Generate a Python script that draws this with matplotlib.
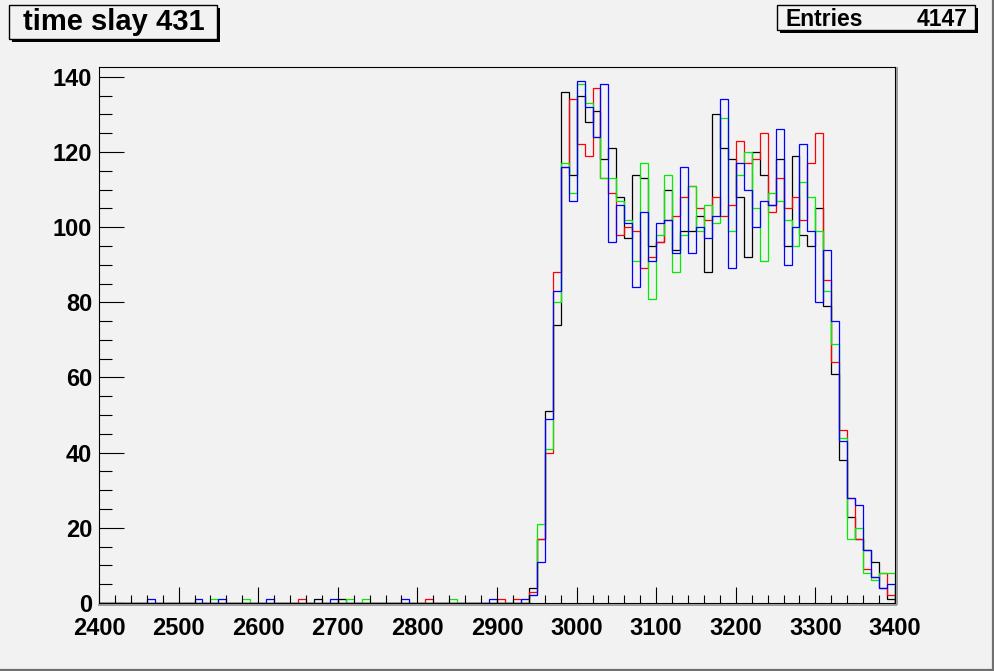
import numpy as np
import matplotlib
matplotlib.use("Agg")
import matplotlib.pyplot as plt
from matplotlib.patches import Rectangle

# ---------------- data ----------------
bin_lo, bin_hi, bin_w = 2400, 3400, 10
title_text = "time slay 431"
entries = 4147

# counts for the bins 2940 ... 3390 (main peak)
peak_start = 2940
black_peak = [4, 17, 51, 74, 136, 114, 135, 128, 131, 118, 121, 108, 97, 114, 113, 95,
              96, 110, 94, 99, 99, 103, 88, 130, 121, 118, 108, 92, 120, 114, 106, 118,
              95, 119, 98, 95, 105, 79, 61, 38, 23, 17, 14, 11, 4, 1]
red_peak = [3, 17, 40, 88, 116, 134, 122, 119, 137, 113, 109, 98, 100, 99, 89, 92,
            96, 102, 103, 108, 111, 105, 102, 108, 103, 106, 123, 117, 118, 125, 104, 113,
            105, 108, 102, 117, 125, 86, 64, 46, 28, 17, 9, 7, 8, 2]
green_peak = [2, 21, 41, 80, 117, 109, 138, 133, 124, 113, 113, 107, 102, 91, 117, 81,
              98, 114, 88, 98, 111, 99, 106, 101, 129, 99, 114, 120, 105, 91, 109, 107,
              102, 95, 112, 108, 99, 83, 69, 44, 17, 20, 8, 6, 8, 8]
blue_peak = [2, 11, 49, 83, 116, 107, 139, 132, 124, 138, 96, 106, 101, 84, 104, 91,
             101, 102, 93, 116, 93, 100, 97, 103, 134, 89, 117, 110, 100, 107, 106, 126,
             90, 100, 122, 99, 80, 94, 75, 43, 28, 26, 14, 7, 4, 5]

# isolated single entries before the peak (bin low edge)
black_single = [2670, 2700]
red_single = [2650, 2810, 2900, 2920]
green_single = [2540, 2580, 2710, 2730, 2840]
blue_single = [2460, 2520, 2550, 2610, 2690, 2780, 2890, 2930]

series = [
    ("black", black_peak, black_single),
    ("#ff0000", red_peak, red_single),
    ("#00ee00", green_peak, green_single),
    ("#0000ff", blue_peak, blue_single),
]

# ---------------- figure ----------------
W, H = 995, 671
bg = "#f2f2f2"
fig = plt.figure(figsize=(W / 100, H / 100), dpi=100, facecolor=bg)
FONT = "Liberation Sans"

def fx(x):
    return x / W

def fy(y):
    return 1 - y / H

left, right, top, bottom = 99, 895, 67, 603
ax = fig.add_axes([fx(left), fy(bottom), (right - left) / W, (bottom - top) / H])
ax.set_facecolor(bg)

edges = np.arange(bin_lo, bin_hi + bin_w, bin_w)
nb = len(edges) - 1
for color, peak, singles in series:
    counts = np.zeros(nb)
    i0 = (peak_start - bin_lo) // bin_w
    counts[i0:i0 + len(peak)] = peak
    for s in singles:
        counts[(s - bin_lo) // bin_w] += 1
    ax.stairs(counts, edges, color=color, lw=0.9, baseline=0)

ax.set_xlim(bin_lo, bin_hi)
ax.set_ylim(0, 142.6)
ax.set_xticks(np.arange(2400, 3401, 100))
ax.set_xticks(np.arange(2400, 3401, 20), minor=True)
ax.set_yticks(np.arange(0, 141, 20))
ax.set_yticks(np.arange(0, 141, 5), minor=True)
ax.tick_params(axis="x", which="major", direction="in", length=11.5, width=0.8, pad=10)
ax.tick_params(axis="x", which="minor", direction="in", length=5.8, width=0.8)
ax.tick_params(axis="y", which="major", direction="in", length=17.8, width=0.8, pad=5)
ax.tick_params(axis="y", which="minor", direction="in", length=9.1, width=0.8)
for lab in ax.get_xticklabels() + ax.get_yticklabels():
    lab.set_fontfamily(FONT)
    lab.set_fontweight("bold")
    lab.set_fontsize(17)
for sp in ax.spines.values():
    sp.set_linewidth(0.8)
    sp.set_color("black")

# frame bevel (gray) at bottom and right
fig.add_artist(plt.Line2D([fx(left), fx(right + 1)], [fy(bottom + 1.5)] * 2,
                          color="#9a9a9a", lw=1.4))
fig.add_artist(plt.Line2D([fx(right + 1.5)] * 2, [fy(top + 1), fy(bottom + 1)],
                          color="#9a9a9a", lw=1.4))

# canvas border
fig.add_artist(plt.Line2D([fx(W - 1.5)] * 2, [0, 1], color="#707070", lw=1.6))
fig.add_artist(plt.Line2D([0, 1], [fy(H - 1.5)] * 2, color="#707070", lw=1.6))


def box(x0, y0, x1, y1):
    sh = Rectangle((fx(x0 + 3), fy(y1 + 3)), (x1 - x0) / W, (y1 - y0) / H,
                   transform=fig.transFigure, facecolor="black", edgecolor="black", lw=0)
    fr = Rectangle((fx(x0), fy(y1)), (x1 - x0) / W, (y1 - y0) / H,
                   transform=fig.transFigure, facecolor=bg, edgecolor="black", lw=1.0)
    fig.add_artist(sh)
    fig.add_artist(fr)


# title box
box(9, 5, 217, 39)
fig.text(fx(114), fy(22.5), title_text, ha="center", va="center", fontsize=21,
         fontweight="bold", fontfamily=FONT)

# stats box
box(777, 5, 975, 30)
fig.text(fx(786), fy(19), "Entries", ha="left", va="center", fontsize=16.5,
         fontweight="bold", fontfamily=FONT)
fig.text(fx(968), fy(19), f"{entries}", ha="right", va="center", fontsize=16.5,
         fontweight="bold", fontfamily=FONT)

fig.savefig("out.png", dpi=100, facecolor=bg)
